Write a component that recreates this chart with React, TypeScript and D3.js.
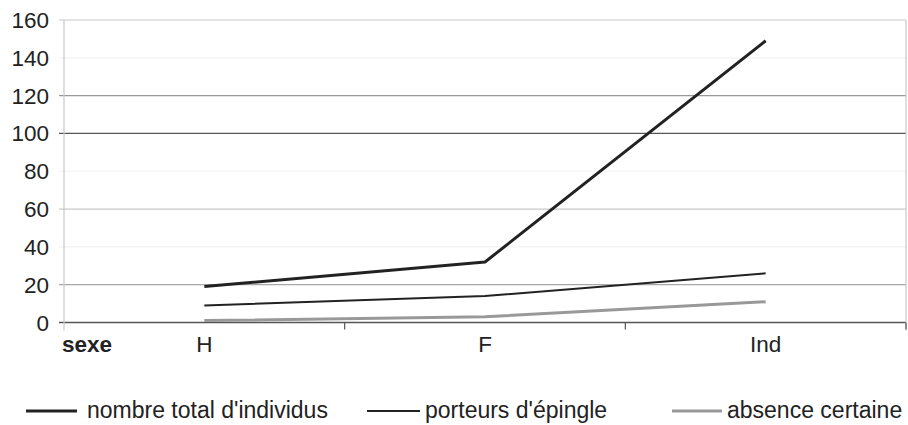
import * as d3 from "d3";

const categories = ["H", "F", "Ind"];
const totalIndividus = [19, 32, 149];
const porteursEpingle = [9, 14, 26];
const absenceCertaine = [1, 3, 11];
const yTicks = [0, 20, 40, 60, 80, 100, 120, 140, 160];
const axisTitle = "sexe";

const WIDTH = 908;
const HEIGHT = 425;
const PLOT = { left: 64, right: 906, top: 20, bottom: 322.5 };
const FONT = "'Liberation Sans', Arial, sans-serif";

// the scan has faded some grid lines more than others
const GRID_COLOR: Record<number, string> = {
  0: "#555",
  20: "#a8a8a8",
  40: "#f2f2f2",
  60: "#c8c8c8",
  80: "#f2f2f2",
  100: "#555",
  120: "#999",
  140: "#f2f2f2",
  160: "#c8c8c8",
};

const series = [
  { name: "nombre total d'individus", values: totalIndividus, color: "#222", width: 3, lx: 26, lw: 51, tx: 87 },
  { name: "porteurs d'épingle", values: porteursEpingle, color: "#222", width: 2, lx: 367, lw: 53, tx: 425 },
  { name: "absence certaine", values: absenceCertaine, color: "#999", width: 3, lx: 672, lw: 50, tx: 727 },
];

export default function App() {
  const x = d3.scaleBand<string>().domain(categories).range([PLOT.left, PLOT.right]).padding(0);
  const y = d3.scaleLinear().domain([0, 160]).range([PLOT.bottom, PLOT.top]);
  const cx = (c: string) => (x(c) ?? 0) + x.bandwidth() / 2;

  const line = d3
    .line<number>()
    .x((_, i) => cx(categories[i]))
    .y((d) => y(d));

  return (
    <svg
      width={WIDTH}
      height={HEIGHT}
      style={{ position: "absolute", left: 0, top: 0, background: "#fff" }}
      fontFamily={FONT}
    >
      {/* grid + y ticks */}
      {yTicks.map((t) => (
        <g key={t}>
          <line x1={PLOT.left - 5} x2={PLOT.right} y1={y(t)} y2={y(t)} stroke={GRID_COLOR[t]} strokeWidth={t === 0 ? 1.6 : 1.2} />
          <text x={49} y={y(t) + 8} textAnchor="end" fontSize={22.5} fill="#222">
            {t}
          </text>
        </g>
      ))}

      {/* frame */}
      <line x1={PLOT.left} x2={PLOT.left} y1={PLOT.top} y2={PLOT.bottom + 8} stroke="#c8c8c8" strokeWidth={1.2} />
      <line x1={PLOT.right} x2={PLOT.right} y1={PLOT.top} y2={PLOT.bottom + 8} stroke="#c8c8c8" strokeWidth={1.2} />

      {/* x ticks at band edges */}
      {categories.map((c) => (
        <line
          key={c}
          x1={(x(c) ?? 0) + x.bandwidth()}
          x2={(x(c) ?? 0) + x.bandwidth()}
          y1={PLOT.bottom}
          y2={PLOT.bottom + 7}
          stroke="#555"
          strokeWidth={1.2}
        />
      ))}

      {/* x labels */}
      {categories.map((c) => (
        <text key={c} x={cx(c)} y={352} textAnchor="middle" fontSize={22.5} fill="#222">
          {c}
        </text>
      ))}
      <text x={62} y={352} fontSize={22.5} fontWeight="bold" fill="#222">
        {axisTitle}
      </text>

      {/* series lines */}
      {series.map((s) => (
        <path
          key={s.name}
          d={line(s.values) ?? ""}
          fill="none"
          stroke={s.color}
          strokeWidth={s.width}
          strokeLinejoin="round"
        />
      ))}

      {/* legend */}
      {series.map((s) => (
        <g key={s.name}>
          <line x1={s.lx} x2={s.lx + s.lw} y1={411} y2={411} stroke={s.color} strokeWidth={s.width} />
          <text x={s.tx} y={418} fontSize={23} fill="#222">
            {s.name}
          </text>
        </g>
      ))}
    </svg>
  );
}
